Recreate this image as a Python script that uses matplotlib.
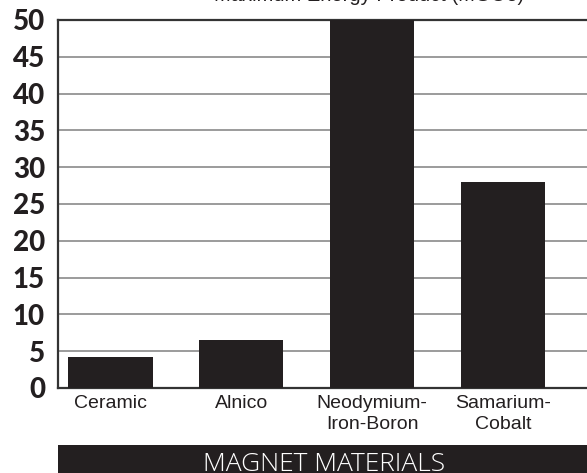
import matplotlib
matplotlib.use("Agg")
import matplotlib.pyplot as plt
from matplotlib.patches import Rectangle

categories = ["Ceramic", "Alnico", "Neodymium-\nIron-Boron", "Samarium-\nCobalt"]
values = [4.2, 6.5, 50, 28]
y_ticks = [0, 5, 10, 15, 20, 25, 30, 35, 40, 45, 50]
title = "Maximum Energy Product (MGOe)"
xlabel = "MAGNET MATERIALS"

W, H = 587, 473
fig = plt.figure(figsize=(W / 100, H / 100), dpi=100)
ax_left, ax_top, ax_bottom = 57.5, 20, 388
ax = fig.add_axes([ax_left / W, 1 - ax_bottom / H, (W - ax_left) / W, (ax_bottom - ax_top) / H])

bar_color = "#231f20"
x = list(range(len(categories)))
ax.bar(x, values, width=0.646, color=bar_color, zorder=3, clip_on=False)

ax.set_xlim(-0.404, 3.643)
ax.set_ylim(0, 50)
ax.set_yticks(y_ticks)
ax.set_yticklabels([str(v) for v in y_ticks],
                   fontdict=dict(family=["Lato", "DejaVu Sans"],
                                 weight="black", size=20))
ax.set_xticks(x)
ax.set_xticklabels(categories, fontdict=dict(family=["Liberation Sans", "DejaVu Sans"], size=14),
                   linespacing=1.3)
ax.tick_params(axis="y", length=0, pad=9, colors=bar_color)
ax.tick_params(axis="x", length=0, pad=5, colors=bar_color)
ax.grid(axis="y", color="#8a8a8a", linewidth=1.2, zorder=1)
for s in ["left", "top", "bottom"]:
    ax.spines[s].set_color("#333333")
    ax.spines[s].set_linewidth(1.6)
ax.spines["right"].set_visible(False)

# bottom black band with label
band = Rectangle((ax_left / W, 0), (W - ax_left) / W, 28 / H, transform=fig.transFigure,
                 facecolor=bar_color, edgecolor="none")
fig.add_artist(band)
fig.text(324.5 / W, 2 / H, xlabel, color="white",
         family=["Open Sans", "DejaVu Sans"], fontweight="light", fontsize=19,
         ha="center", va="baseline")

fig.text(369 / W, 1 - 1 / H, title, family=["Liberation Sans", "DejaVu Sans"],
         fontsize=14.5, ha="center", va="baseline", color=bar_color)

fig.savefig("out.png", dpi=100)
